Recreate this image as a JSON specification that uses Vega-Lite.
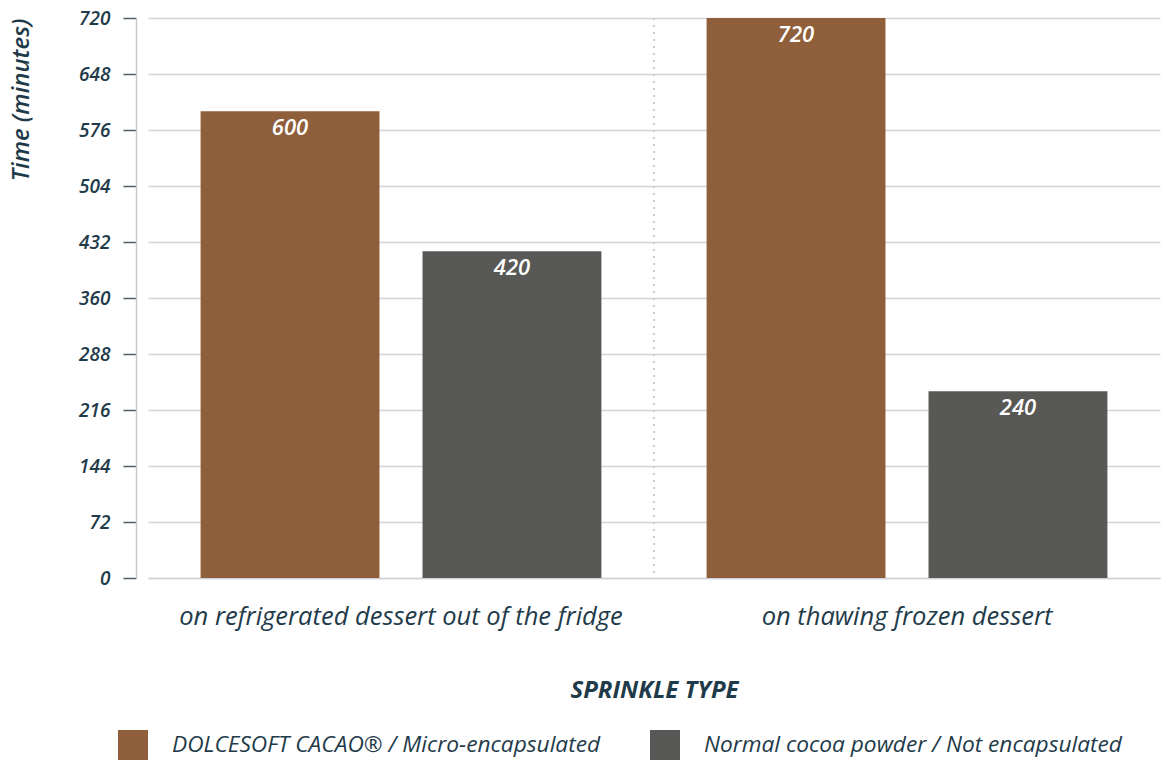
{
  "$schema": "https://vega.github.io/schema/vega-lite/v6.json",
  "width": 1012,
  "height": 560,
  "autosize": {"type": "none"},
  "padding": {"left": 148, "top": 18, "right": 3, "bottom": 182},
  "background": "white",
  "config": {
    "font": "Open Sans",
    "view": {"stroke": null}
  },
  "data": {
    "values": [
      {"surface": "on refrigerated dessert out of the fridge", "sprinkle": "DOLCESOFT CACAO® / Micro-encapsulated", "minutes": 600},
      {"surface": "on refrigerated dessert out of the fridge", "sprinkle": "Normal cocoa powder / Not encapsulated", "minutes": 420},
      {"surface": "on thawing frozen dessert", "sprinkle": "DOLCESOFT CACAO® / Micro-encapsulated", "minutes": 720},
      {"surface": "on thawing frozen dessert", "sprinkle": "Normal cocoa powder / Not encapsulated", "minutes": 240}
    ]
  },
  "encoding": {
    "x": {
      "field": "surface",
      "type": "nominal",
      "sort": null,
      "scale": {"domain": ["on refrigerated dessert out of the fridge", "on thawing frozen dessert"], "paddingInner": 0, "paddingOuter": 0},
      "axis": {
        "title": "SPRINKLE TYPE",
        "labelAngle": 0,
        "labelFontSize": 25.5,
        "labelFontStyle": "italic",
        "labelFontWeight": 500,
        "labelColor": "#1f3b4a",
        "labelPadding": 26,
        "labelLimit": 600,
        "ticks": false,
        "domain": true,
        "domainColor": "#d0d2d8",
        "domainWidth": 1.5,
        "grid": false,
        "titleFontSize": 24,
        "titleFontStyle": "italic",
        "titleFontWeight": "bold",
        "titleColor": "#1f3b4a",
        "titlePadding": 49
      }
    },
    "xOffset": {
      "field": "sprinkle",
      "type": "nominal",
      "scale": {"paddingInner": 0.194, "paddingOuter": 0.237}
    }
  },
  "layer": [
    {
      "mark": {"type": "rule", "strokeDash": [2, 5], "color": "#c9ccd4", "strokeWidth": 1.5},
      "encoding": {
        "x": {"datum": "on thawing frozen dessert", "type": "nominal", "bandPosition": 0},
        "xOffset": null
      }
    },
    {
      "mark": {"type": "bar"},
      "encoding": {
        "y": {
          "field": "minutes",
          "type": "quantitative",
          "scale": {"domain": [0, 720], "nice": false},
          "axis": {
            "title": "Time (minutes)",
            "values": [0, 36, 72, 108, 144, 180, 216, 252, 288, 324, 360, 396, 432, 468, 504, 540, 576, 612, 648, 684, 720],
            "labelExpr": "datum.value % 72 === 0 ? datum.label : ''",
            "offset": 12,
            "tickSize": {"condition": {"test": "datum.value % 72 === 0", "value": 13}, "value": 8},
            "tickColor": "#4d5e68",
            "tickWidth": 1.5,
            "domainColor": "#c5c9d0",
            "domainWidth": 1.5,
            "grid": true,
            "gridColor": "#d2d4da",
            "gridWidth": 1.5,
            "gridOpacity": {"condition": {"test": "datum.value % 72 === 0", "value": 1}, "value": 0},
            "labelFontSize": 19,
            "labelFontStyle": "italic",
            "labelFontWeight": 600,
            "labelColor": "#1f3b4a",
            "labelPadding": 13,
            "titleFontSize": 24,
            "titleFontStyle": "italic",
            "titleFontWeight": 600,
            "titleColor": "#1f3b4a",
            "titleAnchor": "end",
            "titleBaseline": "alphabetic",
            "titleX": -108
          }
        },
        "color": {
          "field": "sprinkle",
          "type": "nominal",
          "scale": {
            "domain": ["DOLCESOFT CACAO® / Micro-encapsulated", "Normal cocoa powder / Not encapsulated"],
            "range": ["#8F5E3A", "#585856"]
          },
          "legend": {
            "title": null,
            "orient": "none",
            "legendX": -30,
            "legendY": 712,
            "direction": "horizontal",
            "symbolType": "square",
            "symbolSize": 900,
            "symbolStrokeWidth": 0,
            "symbolOpacity": 1,
            "labelFontSize": 22.7,
            "labelFontStyle": "italic",
            "labelFontWeight": 500,
            "labelColor": "#1f3b4a",
            "labelOffset": 24,
            "columnPadding": 49,
            "padding": 0,
            "labelLimit": 600
          }
        }
      }
    },
    {
      "mark": {"type": "text", "color": "white", "fontSize": 22, "fontStyle": "italic", "fontWeight": 600, "baseline": "middle", "dy": 17},
      "encoding": {
        "y": {"field": "minutes", "type": "quantitative"},
        "text": {"field": "minutes", "type": "quantitative"}
      }
    }
  ]
}
